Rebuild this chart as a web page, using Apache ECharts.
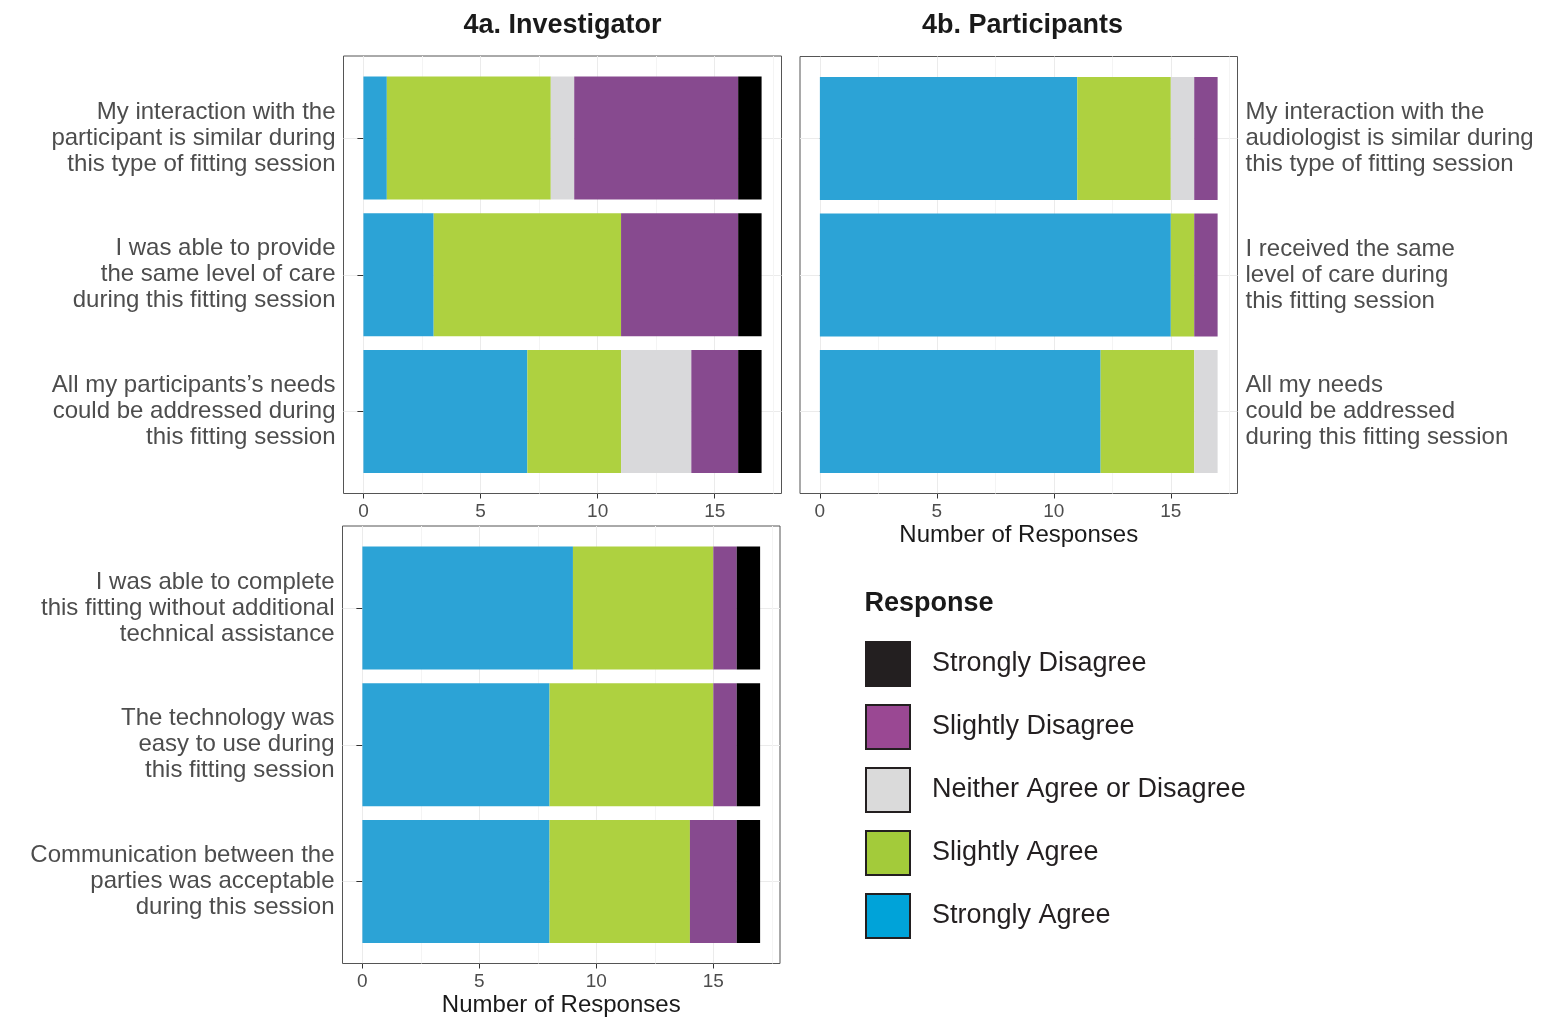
<!DOCTYPE html>
<html>
<head>
<meta charset="utf-8">
<script src="https://cdn.jsdelivr.net/npm/echarts@6/dist/echarts.min.js"></script>
<style>
html,body{margin:0;padding:0;background:#fff;}
#chart{width:1554px;height:1021px;}
</style>
</head>
<body>
<div id="chart"></div>
<script>
// ---------- DATA ----------
const responses = ['Strongly Agree', 'Slightly Agree', 'Neither Agree or Disagree', 'Slightly Disagree', 'Strongly Disagree'];
const legendOrder = ['Strongly Disagree', 'Slightly Disagree', 'Neither Agree or Disagree', 'Slightly Agree', 'Strongly Agree'];

const categoriesA = [
  'My interaction with the\nparticipant is similar during\nthis type of fitting session',
  'I was able to provide\nthe same level of care\nduring this fitting session',
  'All my participants’s needs\ncould be addressed during\nthis fitting session'
];
const categoriesB = [
  'My interaction with the\naudiologist is similar during\nthis type of fitting session',
  'I received the same\nlevel of care during\nthis fitting session',
  'All my needs\ncould be addressed\nduring this fitting session'
];
const categoriesC = [
  'I was able to complete\nthis fitting without additional\ntechnical assistance',
  'The technology was\neasy to use during\nthis fitting session',
  'Communication between the\nparties was acceptable\nduring this session'
];

// values per response (order of `responses`), rows top to bottom
const valuesA = [
  [1, 3, 7],   // Strongly Agree
  [7, 8, 4],   // Slightly Agree
  [1, 0, 3],   // Neither
  [7, 5, 2],   // Slightly Disagree
  [1, 1, 1]    // Strongly Disagree
];
const valuesB = [
  [11, 15, 12],
  [4, 1, 4],
  [1, 0, 1],
  [1, 1, 0],
  [0, 0, 0]
];
const valuesC = [
  [9, 8, 8],
  [6, 7, 6],
  [0, 0, 0],
  [1, 1, 2],
  [1, 1, 1]
];

const majorTicks = [0, 5, 10, 15];
const minorTicks = [2.5, 7.5, 12.5, 17.5];
const xMin = -0.85, xMax = 17.85;

const titleA = '4a. Investigator';
const titleB = '4b. Participants';
const axisTitle = 'Number of Responses';
const legendTitle = 'Response';

// ---------- STYLE ----------
const barColors = {
  'Strongly Agree': '#2CA3D6',
  'Slightly Agree': '#AED140',
  'Neither Agree or Disagree': '#D9D9DB',
  'Slightly Disagree': '#874A8F',
  'Strongly Disagree': '#000000'
};
const keyColors = {
  'Strongly Agree': '#00A3D9',
  'Slightly Agree': '#A3CB3A',
  'Neither Agree or Disagree': '#DADADA',
  'Slightly Disagree': '#9A4893',
  'Strongly Disagree': '#231F20'
};
const FONT = '"Liberation Sans", Arial, Helvetica, sans-serif';

const panels = [
  { cats: categoriesA, vals: valuesA, frame: {left: 343.5, top: 56, width: 438, height: 437.5}, side: 'left', xName: '' },
  { cats: categoriesB, vals: valuesB, frame: {left: 800, top: 56.5, width: 437.5, height: 437}, side: 'right', xName: axisTitle },
  { cats: categoriesC, vals: valuesC, frame: {left: 342.5, top: 526, width: 437.5, height: 437.5}, side: 'left', xName: axisTitle }
];

const grid = [], xAxis = [], yAxis = [], series = [];
panels.forEach((p, i) => {
  const f = p.frame;
  const unit = f.height / (p.cats.length + 0.2);
  grid.push({ left: f.left, top: f.top, width: f.width, height: f.height, show: true,
              borderColor: '#555', borderWidth: 1, backgroundColor: 'transparent', containLabel: false });
  grid.push({ left: f.left, top: f.top + 0.1 * unit, width: f.width, height: p.cats.length * unit, show: false, containLabel: false });
  const gFrame = 2 * i, gInner = 2 * i + 1;
  xAxis.push({
    gridIndex: gFrame, type: 'value', min: xMin, max: xMax, position: 'bottom',
    axisLine: { show: false },
    axisTick: { show: true, length: 5, customValues: majorTicks, lineStyle: { color: '#333', width: 1 } },
    axisLabel: { show: true, customValues: majorTicks, color: '#4D4D4D', fontSize: 19, fontFamily: FONT, margin: 9 },
    splitLine: { show: true, lineStyle: { color: '#EBEBEB', width: 1 } },
    name: p.xName, nameLocation: 'middle', nameGap: 30,
    nameTextStyle: { color: '#1A1A1A', fontSize: 24, fontFamily: FONT }
  });
  xAxis.push({
    gridIndex: gFrame, type: 'value', min: xMin, max: xMax, position: 'top',
    axisLine: { show: false },
    axisTick: { show: false, customValues: minorTicks },
    axisLabel: { show: false, customValues: minorTicks },
    splitLine: { show: true, lineStyle: { color: '#F4F4F4', width: 1 } }
  });
  xAxis.push({ gridIndex: gInner, type: 'value', min: xMin, max: xMax, show: false,
               splitLine: { show: false } });
  const pos = p.cats.map((_, k) => k + 1);
  yAxis.push({
    gridIndex: gFrame, type: 'value', min: 0.4, max: p.cats.length + 0.6, inverse: true, position: p.side,
    axisLine: { show: false },
    axisTick: { show: true, length: 6, customValues: pos, lineStyle: { color: '#333', width: 1 } },
    axisLabel: { show: true, customValues: pos, formatter: v => p.cats[Math.round(v) - 1] || '',
                 color: '#4D4D4D', fontSize: 24, lineHeight: 26, fontFamily: FONT, margin: 8 },
    splitLine: { show: true, lineStyle: { color: '#EBEBEB', width: 1 } }
  });
  yAxis.push({ gridIndex: gInner, type: 'category', data: p.cats, inverse: true, show: false });
  responses.forEach((r, k) => {
    series.push({
      type: 'bar', name: r, stack: 'panel' + i,
      xAxisIndex: 3 * i + 2, yAxisIndex: 2 * i + 1,
      data: p.vals[k], barCategoryGap: '10%',
      itemStyle: { color: barColors[r] },
      emphasis: { disabled: true }, silent: true
    });
  });
});

const chart = echarts.init(document.getElementById('chart'), null, { renderer: 'canvas' });
chart.setOption({
  animation: false,
  backgroundColor: '#ffffff',
  textStyle: { fontFamily: FONT },
  grid, xAxis, yAxis, series,
  legend: {
    orient: 'vertical', left: 865, top: 641, padding: 0,
    itemWidth: 44, itemHeight: 44, itemGap: 17, icon: 'rect', selectedMode: false,
    textStyle: { fontSize: 27, color: '#231F20', fontFamily: FONT, padding: [0, 0, 0, 17] },
    data: legendOrder.map(n => ({ name: n, icon: 'rect',
      itemStyle: { color: keyColors[n], borderColor: '#231F20', borderWidth: 2 } }))
  },
  graphic: [
    { type: 'text', x: 562.5, y: 26, style: { text: titleA, fill: '#1A1A1A', font: 'bold 27px ' + FONT, align: 'center', verticalAlign: 'middle', textAlign: 'center', textVerticalAlign: 'middle' } },
    { type: 'text', x: 1022.5, y: 26, style: { text: titleB, fill: '#1A1A1A', font: 'bold 27px ' + FONT, align: 'center', verticalAlign: 'middle', textAlign: 'center', textVerticalAlign: 'middle' } },
    { type: 'text', x: 864.5, y: 604, style: { text: legendTitle, fill: '#1A1A1A', font: 'bold 27px ' + FONT, align: 'left', verticalAlign: 'middle', textAlign: 'left', textVerticalAlign: 'middle' } }
  ]
});
</script>
</body>
</html>
